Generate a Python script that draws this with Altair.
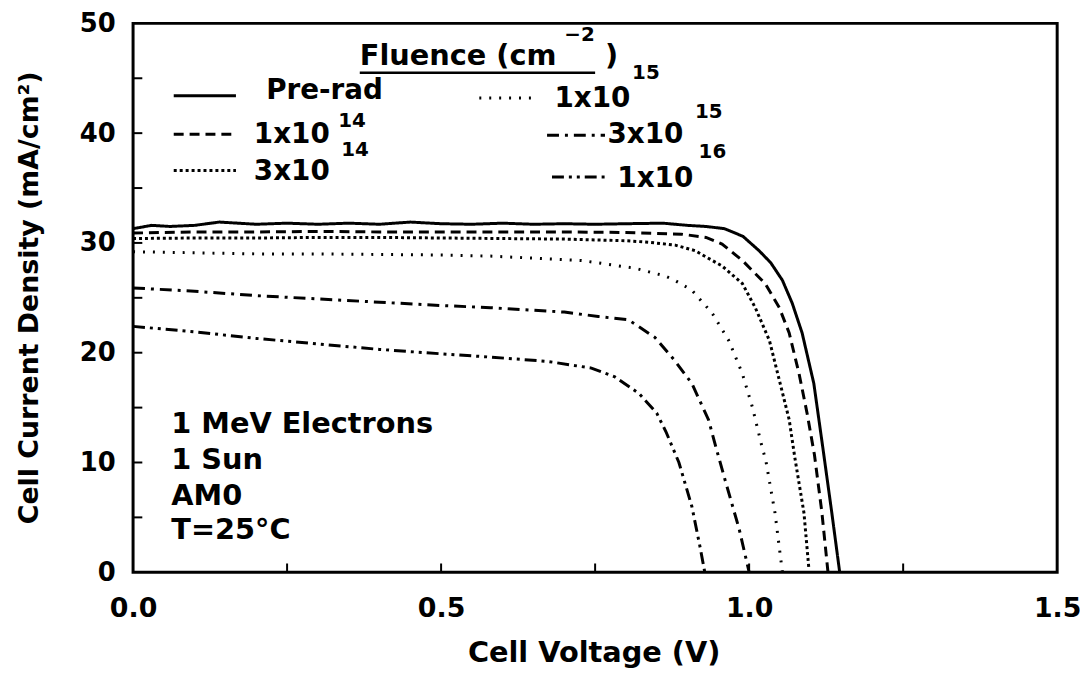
import altair as alt
import pandas as pd

# ---------------- data ----------------
series_names = ["Pre-rad", "1e14", "3e14", "1e15", "3e15", "1e16"]

v_pre = [0, 0.03, 0.06, 0.1, 0.14, 0.2, 0.25, 0.3, 0.35, 0.4, 0.45, 0.5, 0.55, 0.6, 0.65, 0.7,
         0.75, 0.8, 0.86, 0.9, 0.93, 0.96, 0.99, 1.016, 1.035, 1.054, 1.07, 1.086, 1.105, 1.12,
         1.134, 1.147]
j_pre = [31.3, 31.6, 31.5, 31.6, 31.9, 31.7, 31.8, 31.7, 31.8, 31.7, 31.9, 31.75, 31.7, 31.8, 31.7, 31.75,
         31.7, 31.75, 31.8, 31.6, 31.5, 31.3, 30.6, 29.3, 28.2, 26.6, 24.5, 21.8, 17.2, 11.2,
         5.5, 0]

v_1e14 = [0, 0.1, 0.2, 0.3, 0.4, 0.5, 0.6, 0.7, 0.8, 0.89, 0.93, 0.956, 0.989, 1.026, 1.049,
          1.065, 1.081, 1.094, 1.106, 1.118, 1.128]
j_1e14 = [30.9, 31.0, 31.0, 31.05, 31.0, 31.0, 31.0, 31.0, 30.95, 30.8, 30.5, 29.9, 28.4, 26.3, 24.1,
          21.8, 18.1, 14.5, 10.7, 5.5, 0]

v_3e14 = [0, 0.1, 0.2, 0.3, 0.4, 0.5, 0.6, 0.7, 0.8, 0.837, 0.88, 0.912, 0.956, 0.989, 1.01,
          1.033, 1.049, 1.065, 1.074, 1.089, 1.097]
j_3e14 = [30.4, 30.45, 30.45, 30.5, 30.5, 30.45, 30.4, 30.35, 30.2, 30.06, 29.8, 29.3, 27.9, 26.3, 24.1,
          21.1, 17.5, 13.9, 10.5, 5.4, 0.3]

v_1e15 = [0, 0.1, 0.2, 0.3, 0.4, 0.5, 0.58, 0.728, 0.814, 0.863, 0.879, 0.907, 0.94, 0.967,
          0.989, 1.005, 1.021, 1.027, 1.042, 1.054]
j_1e15 = [29.2, 29.1, 29.0, 29.0, 28.95, 28.9, 28.8, 28.4, 27.7, 27.0, 26.6, 25.7, 23.6, 21.1,
          18.1, 15.1, 11.4, 10.2, 5.4, 0]

v_3e15 = [0, 0.1, 0.2, 0.3, 0.4, 0.5, 0.58, 0.7, 0.755, 0.804, 0.847, 0.879, 0.907, 0.934,
          0.948, 0.961, 0.984, 1.0]
j_3e15 = [25.9, 25.6, 25.2, 24.9, 24.6, 24.3, 24.1, 23.7, 23.3, 23.0, 21.4, 19.3, 17.2, 13.9,
          11.0, 8.4, 3.9, 0]

v_1e16 = [0, 0.1, 0.2, 0.3, 0.4, 0.5, 0.58, 0.674, 0.744, 0.782, 0.821, 0.85, 0.865, 0.886,
          0.907, 0.92, 0.928]
j_1e16 = [22.4, 21.9, 21.3, 20.8, 20.3, 19.9, 19.6, 19.2, 18.6, 17.8, 16.3, 14.5, 12.8, 10.0,
          6.0, 2.4, 0]

curves = {
    "Pre-rad": (v_pre, j_pre),
    "1e14": (v_1e14, j_1e14),
    "3e14": (v_3e14, j_3e14),
    "1e15": (v_1e15, j_1e15),
    "3e15": (v_3e15, j_3e15),
    "1e16": (v_1e16, j_1e16),
}

dash_styles = [[1, 0], [10, 6], [3, 3], [2, 8], [12, 6, 3, 6], [12, 5, 3, 5, 3, 5]]

x_tick_labels = [0, 0.5, 1.0, 1.5]
y_tick_labels = [0, 10, 20, 30, 40, 50]
x_minor = [0.25, 0.5, 0.75, 1.0, 1.25]
y_minor = [5, 10, 15, 20, 25, 30, 35, 40, 45]

# legend: sample segments (x start, x end, y) in data units
leg_series = series_names
leg_x1 = [0.066, 0.066, 0.066, 0.562, 0.672, 0.68]
leg_x2 = [0.167, 0.167, 0.167, 0.656, 0.766, 0.772]
leg_y = [43.4, 39.9, 36.6, 43.2, 39.8, 36.0]

leg_main_text = ["Pre-rad", "1x10", "3x10", "1x10", "3x10", "1x10"]
leg_main_x = [0.216, 0.196, 0.196, 0.684, 0.77, 0.786]
leg_main_y = [43.8, 39.8, 36.5, 43.1, 39.8, 35.8]
leg_sup_text = ["14", "14", "15", "15", "16"]
leg_sup_x = [0.333, 0.338, 0.81, 0.912, 0.918]
leg_sup_y = [41.1, 38.5, 45.5, 41.9, 38.3]

notes = ["1 MeV Electrons", "1 Sun", "AM0", "T=25°C"]
notes_x = [0.062, 0.062, 0.062, 0.062]
notes_y = [13.5, 10.2, 6.9, 3.8]

FONT = "DejaVu Sans"

# ---------------- build tables ----------------
rows = []
for name in series_names:
    vs, js = curves[name]
    for i, (v, j) in enumerate(zip(vs, js)):
        rows.append({"series": name, "V": v, "J": j, "order": i})
df = pd.DataFrame(rows)

leg_rows = []
for s, a, b, y in zip(leg_series, leg_x1, leg_x2, leg_y):
    leg_rows.append({"series": s, "V": a, "J": y, "order": 0})
    leg_rows.append({"series": s, "V": b, "J": y, "order": 1})
leg_df = pd.DataFrame(leg_rows)

xs = alt.Scale(domain=[0, 1.5], nice=False)
ys = alt.Scale(domain=[0, 50], nice=False)
dash_scale = alt.Scale(domain=series_names, range=dash_styles)

W, H = 931, 553

x_axis = alt.Axis(
    values=x_tick_labels, format=".1f", title="Cell Voltage (V)",
    ticks=False, tickSize=0, domain=False, grid=False,
    labelPadding=24, labelFontSize=27, labelFont=FONT, labelFontWeight="bold",
    labelColor="black", titleFont=FONT, titleFontSize=29, titleFontWeight="bold",
    titleColor="black", titleY=81, titleBaseline="middle", titleX=464,
    labelFlush=False)
y_axis = alt.Axis(
    values=y_tick_labels, format="d", title="Cell Current Density (mA/cm²)",
    ticks=False, tickSize=0, domain=False, grid=False,
    labelPadding=18, labelFontSize=26, labelFont=FONT, labelFontWeight="bold",
    labelColor="black", titleFont=FONT, titleFontSize=27, titleFontWeight="bold",
    titleColor="black", titleX=-104, titleBaseline="middle", titleY=276,
    labelFlush=False)


def X():
    return alt.X("V:Q", scale=xs, axis=x_axis)


def Y():
    return alt.Y("J:Q", scale=ys, axis=y_axis)


curve_layer = alt.Chart(df).mark_line(color="black", strokeWidth=3).encode(
    x=X(), y=Y(),
    strokeDash=alt.StrokeDash("series:N", scale=dash_scale, legend=None),
    detail="series:N",
    order="order:Q",
)

legend_lines = alt.Chart(leg_df).mark_line(color="black", strokeWidth=3).encode(
    x=X(), y=Y(),
    strokeDash=alt.StrokeDash("series:N", scale=dash_scale, legend=None),
    detail="series:N",
    order="order:Q",
)

# inward ticks
xt_df = pd.DataFrame({"V": x_minor, "J": [0] * len(x_minor), "J2": [0.8] * len(x_minor)})
yt_df = pd.DataFrame({"V": [0] * len(y_minor), "V2": [0.015] * len(y_minor), "J": y_minor})
x_ticks = alt.Chart(xt_df).mark_rule(color="black", strokeWidth=2).encode(
    x=X(), y=Y(), y2="J2:Q")
y_ticks = alt.Chart(yt_df).mark_rule(color="black", strokeWidth=2).encode(
    x=X(), x2="V2:Q", y=Y())


def text_layer(texts, xv, yv, size, align="left"):
    d = pd.DataFrame({"t": texts, "V": xv, "J": yv})
    return alt.Chart(d).mark_text(
        font=FONT, fontSize=size, fontWeight="bold", color="black",
        align=align, baseline="middle").encode(x=X(), y=Y(), text="t:N")


legend_main = text_layer(leg_main_text, leg_main_x, leg_main_y, 28)
legend_sup = text_layer(leg_sup_text, leg_sup_x, leg_sup_y, 20)
notes_layer = text_layer(notes, notes_x, notes_y, 29)

title_main = text_layer(["Fluence (cm"], [0.368], [47.0], 29)
title_sup = text_layer(["−2"], [0.7], [48.9], 20)
title_close = text_layer([")"], [0.766], [47.0], 29)
ul_df = pd.DataFrame({"V": [0.368], "V2": [0.75], "J": [45.5]})
underline = alt.Chart(ul_df).mark_rule(color="black", strokeWidth=2.5).encode(
    x=X(), x2="V2:Q", y=Y())

chart = alt.layer(
    curve_layer, legend_lines, x_ticks, y_ticks, legend_main, legend_sup, notes_layer,
    title_main, title_sup, title_close, underline
).properties(
    width=W, height=H,
    autosize=alt.AutoSizeParams(type="none"),
    padding={"left": 126, "top": 13, "right": 23, "bottom": 100},
    background="white",
).configure_view(stroke="black", strokeWidth=3)

chart.save("out.html", embed_options={"renderer": "svg", "actions": False})
